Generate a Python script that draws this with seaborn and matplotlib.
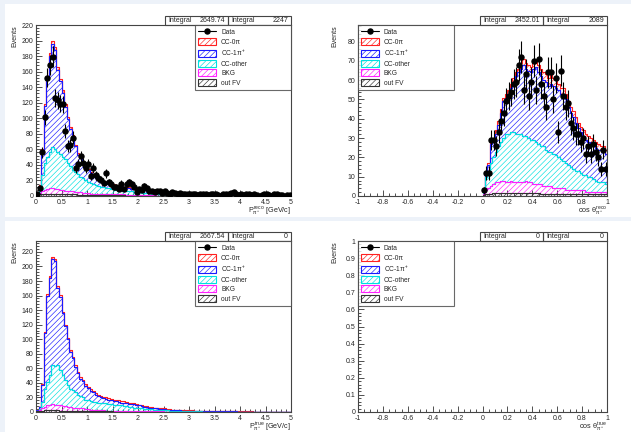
import numpy as np
import pandas as pd
import matplotlib
matplotlib.use("Agg")
import matplotlib.pyplot as plt
from matplotlib.patches import Patch, Rectangle
from matplotlib.lines import Line2D
from matplotlib.colors import to_rgb
from matplotlib.ticker import MultipleLocator, FuncFormatter
import seaborn as sns

# stack components, top of the stack first
COMP_KEYS = ["cc0pi", "cc1pi", "ccother", "bkg", "outfv"]
COMP_LABELS = ["CC-0π", "CC-1π$^{+}$", "CC-other", "BKG", "out FV"]
COMP_COLORS = ["#ff2020", "#1a1aff", "#00e0e0", "#ff20ff", "#333333"]

# ---- P_pi reco (0..5 GeV/c, 100 bins) ----
tl_outfv = [1, 2, 2, 2, 3, 3, 3, 3, 2, 2, 2, 2, 2, 2, 2, 2, 1, 1, 1, 1,
            1, 1, 1, 1, 1, 1, 1, 1, 1, 1, 1, 1, 1, 1, 1, 0.5, 0.5, 0.5, 0.5, 0.5,
            0.4, 0.4, 0.4, 0.4, 0.4, 0.3, 0.3, 0.3, 0.3, 0.3, 0.3, 0.2, 0.2, 0.2, 0.2, 0.2, 0.2, 0.2, 0.2, 0.2,
            0.2, 0.1, 0.1, 0.1, 0.1, 0.1, 0.1, 0.1, 0.1, 0.1, 0.1, 0.1, 0.1, 0.1, 0.1, 0.1, 0.1, 0.1, 0.1, 0.1,
            0.1, 0.1, 0.1, 0.1, 0.1, 0.1, 0.1, 0.1, 0.1, 0.1, 0.1, 0.1, 0.1, 0.1, 0.1, 0.1, 0.1, 0.1, 0.1, 0.1]
tl_bkg = [1, 2, 4, 6, 6, 7, 7, 6, 7, 6, 6, 5, 5, 4, 4, 3, 4, 4, 3, 3,
          3, 2, 2, 2, 2, 2, 1, 1, 1, 1, 1, 1, 1, 1, 1, 0.5, 0.5, 0.5, 0.5, 0.5,
          0.5, 0.5, 0.4, 0.4, 0.4, 0.4, 0.4, 0.3, 0.3, 0.3, 0.3, 0.3, 0.3, 0.3, 0.2, 0.2, 0.2, 0.2, 0.2, 0.2,
          0.2, 0.2, 0.2, 0.2, 0.2, 0.2, 0.1, 0.1, 0.1, 0.1, 0.1, 0.1, 0.1, 0.1, 0.1, 0.1, 0.1, 0.1, 0.1, 0.1,
          0.1, 0.1, 0.1, 0.1, 0.1, 0.1, 0.1, 0.1, 0.1, 0.1, 0.1, 0.1, 0.1, 0.1, 0.1, 0.1, 0.1, 0.1, 0.1, 0.1]
tl_other = [0, 6, 21, 34, 41, 47, 53, 52, 48, 46, 42, 40, 35, 32, 28, 26, 23, 20, 19, 17,
            14, 14, 12, 11, 10, 9, 9, 8, 8, 7, 7, 6, 6, 5, 5, 5, 5, 5, 4, 4,
            4, 3.5, 3.5, 3, 3, 2.5, 2.5, 2.5, 2, 2, 2, 1.8, 1.6, 1.5, 1.4, 1.3, 1.2, 1.1, 1.0, 1.0,
            0.9, 0.9, 0.8, 0.8, 0.7, 0.7, 0.6, 0.6, 0.6, 0.5, 0.5, 0.5, 0.4, 0.4, 0.4, 0.4, 0.3, 0.3, 0.3, 0.3,
            0.3, 0.3, 0.2, 0.2, 0.2, 0.2, 0.2, 0.2, 0.2, 0.1, 0.1, 0.1, 0.1, 0.1, 0.1, 0.1, 0.1, 0.1, 0.1, 0.1]
tl_1pi = [3, 3, 32, 74, 102, 123, 133, 127, 105, 94, 83, 68, 57, 48, 41, 33, 25, 24, 18, 16,
          15, 12, 11, 9, 8, 7, 6, 6, 5, 5, 4, 4, 4, 4, 4, 4, 4, 3, 4, 3,
          3, 3, 3, 2.6, 2.5, 2.3, 2.2, 2.1, 2.0, 1.9, 1.8, 1.7, 1.6, 1.5, 1.5, 1.4, 1.3, 1.3, 1.2, 1.2,
          1.1, 1.1, 1.0, 1.0, 0.9, 0.9, 0.9, 0.8, 0.8, 0.8, 0.7, 0.7, 0.7, 0.6, 0.6, 0.6, 0.6, 0.5, 0.5, 0.5,
          0.5, 0.5, 0.4, 0.4, 0.4, 0.4, 0.4, 0.3, 0.3, 0.3, 0.3, 0.3, 0.3, 0.3, 0.2, 0.2, 0.2, 0.2, 0.2, 0.2]
tl_0pi = [0, 1, 2, 3, 3, 4, 4, 4, 4, 3, 3, 3, 3, 3, 3, 2, 2, 2, 2, 2,
          2, 2, 2, 2, 2, 2, 2, 2, 2, 2, 2, 2, 1, 1, 1, 1, 1, 1, 1, 1,
          1, 1, 1, 0.8, 0.8, 0.7, 0.7, 0.7, 0.6, 0.6, 0.6, 0.5, 0.5, 0.5, 0.5, 0.4, 0.4, 0.4, 0.4, 0.4,
          0.3, 0.3, 0.3, 0.3, 0.3, 0.3, 0.2, 0.2, 0.2, 0.2, 0.2, 0.2, 0.2, 0.2, 0.2, 0.1, 0.1, 0.1, 0.1, 0.1,
          0.1, 0.1, 0.1, 0.1, 0.1, 0.1, 0.1, 0.1, 0.1, 0.1, 0.1, 0.1, 0.1, 0.1, 0.1, 0.1, 0.1, 0.1, 0.1, 0.1]
tl_data = [3, 10, 56, 101, 152, 169, 179, 126, 123, 119, 118, 84, 64, 65, 75, 36, 41, 51, 42, 36,
           41, 26, 36, 27, 23, 21, 17, 29, 18, 16, 11, 12, 9, 16, 9, 15, 18, 15, 12, 5,
           9, 8, 13, 10, 7, 6, 5, 6, 7, 4, 6, 4, 3, 5, 4, 3, 4, 3, 3, 3,
           3, 2, 3, 1, 2, 2, 3, 1, 2, 2, 2, 1, 0, 2, 2, 3, 4, 5, 2, 1,
           2, 1, 2, 3, 1, 2, 1, 0, 1, 2, 2, 1, 0, 2, 2, 1, 1, 0, 1, 1]

# ---- cos theta reco (filled part 0..1, 50 bins of 0.02) ----
tr_outfv = [0.5, 1, 1, 1, 1.5, 1.5, 1.5, 1.5, 1.5, 1.5, 1.5, 1.5, 1.5, 1.5, 1.5, 1.5, 1.5, 1.5, 1.5, 1.5,
            1.5, 1.5, 1.5, 1, 1, 1, 1, 1, 1, 1, 1, 1, 1, 1, 1, 1, 1, 1, 1, 1,
            1, 1, 1, 1, 1, 1, 1, 1, 1, 1]
tr_bkg = [0.5, 2, 3, 4, 4.5, 5.5, 5.5, 6.5, 6.5, 5.5, 5.5, 6.5, 5.5, 5.5, 5.5, 5.5, 5.5, 6.5, 5.5, 5.5,
          4.5, 4.5, 4.5, 5, 4, 4, 4, 4, 3, 3, 3, 3, 3, 2, 2, 2, 2, 2, 2, 2,
          2, 1, 1, 1, 1, 1, 1, 1, 1, 1]
tr_other = [1, 7, 9, 12, 14, 16, 19, 20, 22, 25, 25, 25, 26, 25, 25, 25, 24, 23, 23, 22,
            23, 22, 21, 20, 21, 19, 18, 18, 18, 17, 16, 15, 14, 14, 13, 12, 11, 10, 10, 9,
            8, 9, 8, 8, 7, 6, 5, 5, 5, 4]
tr_1pi = [1, 2, 3, 10, 8, 9, 11, 15, 19, 19, 21, 23, 26, 30, 32, 34, 37, 35, 35, 35,
          37, 39, 37, 36, 34, 35, 34, 35, 35, 35, 35, 34, 35, 33, 30, 28, 27, 25, 22, 21,
          20, 18, 18, 17, 17, 17, 17, 17, 17, 16]
tr_0pi = [0, 1, 1, 1, 1, 2, 2, 2, 2, 2, 2, 2, 2, 2, 2, 3, 3, 3, 3, 3,
          3, 3, 4, 4, 4, 4, 4, 5, 4, 4, 3, 3, 3, 3, 3, 3, 3, 3, 3, 3,
          3, 3, 3, 3, 3, 3, 3, 2, 2, 2]
tr_data = [3, 12, 12, 29, 29, 26, 33, 39, 43, 49, 52, 54, 58, 59, 68, 72, 55, 63, 52, 59,
           70, 55, 71, 58, 52, 46, 64, 64, 50, 61, 33, 65, 52, 46, 48, 38, 35, 32, 32, 28,
           30, 22, 26, 22, 27, 23, 20, 14, 24, 14]

# ---- P_pi true (0..5 GeV/c, 100 bins), no data ----
bl_outfv = [1, 2, 2, 3, 3, 3, 3, 3, 3, 2, 2, 2, 2, 2, 2, 2, 1, 1, 1, 1,
            1, 1, 1, 1, 1, 1, 1, 1, 1, 1, 0.5, 0.5, 0.5, 0.5, 0.5, 0.5, 0.5, 0.5, 0.5, 0.5,
            0.3, 0.3, 0.3, 0.3, 0.3, 0.3, 0.3, 0.3, 0.3, 0.3, 0.2, 0.2, 0.2, 0.2, 0.2, 0.2, 0.2, 0.2, 0.2, 0.2,
            0.1, 0.1, 0.1, 0.1, 0.1, 0.1, 0.1, 0.1, 0.1, 0.1, 0.1, 0.1, 0.1, 0.1, 0.1, 0.1, 0.1, 0.1, 0.1, 0.1,
            0.1, 0.1, 0.1, 0.1, 0.1, 0.1, 0.1, 0.1, 0.1, 0.1, 0.1, 0.1, 0.1, 0.1, 0.1, 0.1, 0.1, 0.1, 0.1, 0.1]
bl_bkg = [0, 1, 3, 4, 6, 7, 8, 7, 7, 7, 6, 6, 5, 5, 4, 4, 4, 4, 4, 3,
          3, 2, 2, 2, 2, 2, 2, 1, 1, 1, 1.5, 1.5, 1.5, 1.5, 1, 1, 1, 1, 0.5, 0.5,
          0.7, 0.7, 0.7, 0.6, 0.6, 0.5, 0.5, 0.5, 0.4, 0.4, 0.4, 0.4, 0.3, 0.3, 0.3, 0.3, 0.2, 0.2, 0.2, 0.2,
          0.2, 0.2, 0.2, 0.2, 0.2, 0.1, 0.1, 0.1, 0.1, 0.1, 0.1, 0.1, 0.1, 0.1, 0.1, 0.1, 0.1, 0.1, 0.1, 0.1,
          0.1, 0.1, 0.1, 0.1, 0.1, 0.1, 0.1, 0.1, 0.1, 0.1, 0.1, 0.1, 0.1, 0.1, 0.1, 0.1, 0.1, 0.1, 0.1, 0.1]
bl_other = [0, 1, 9, 25, 32, 41, 53, 53, 55, 49, 43, 36, 30, 25, 24, 21, 19, 17, 15, 13,
            12, 12, 11, 11, 10, 10, 9, 10, 9, 9, 8, 8, 7, 7, 6.5, 6.5, 5.5, 5.5, 5, 5,
            4.5, 4.3, 3.5, 3.4, 3.0, 2.7, 2.5, 2.3, 2.0, 1.8, 1.7, 1.5, 1.4, 1.2, 1.1, 1.0, 0.9, 0.8, 0.7, 0.7,
            0.6, 0.6, 0.5, 0.5, 0.5, 0.4, 0.4, 0.4, 0.3, 0.3, 0.3, 0.3, 0.2, 0.2, 0.2, 0.2, 0.2, 0.2, 0.1, 0.1,
            0.1, 0.1, 0.1, 0.1, 0.1, 0.1, 0.1, 0.1, 0.1, 0.1, 0.1, 0.1, 0.1, 0.1, 0.1, 0.1, 0.1, 0.1, 0.1, 0.1]
bl_1pi = [2, 3, 23, 76, 119, 133, 146, 144, 105, 100, 85, 74, 63, 51, 44, 35, 29, 24, 22, 19,
          17, 14, 13, 10, 9, 7, 7, 6, 6, 5, 5, 5, 5, 4, 5, 4, 4.5, 3.5, 4.5, 3.5,
          3.5, 2.7, 2.5, 2.7, 2.1, 2.6, 1.9, 2.1, 1.6, 1.8, 2.3, 1.2, 1.4, 0.8, 0.9, 1.0, 1.3, 0.5, 0.6, 0.6,
          1.0, 0.9, 0.9, 0.8, 0.8, 0.7, 0.7, 0.7, 0.6, 0.6, 0.6, 0.5, 0.5, 0.5, 0.5, 0.4, 0.4, 0.4, 0.4, 0.3,
          0.3, 0.3, 0.3, 0.3, 0.3, 0.2, 0.2, 0.2, 0.2, 0.2, 0.2, 0.2, 0.2, 0.1, 0.1, 0.1, 0.1, 0.1, 0.1, 0.1]
bl_0pi = [0, 0, 1, 2, 2, 3, 3, 3, 3, 3, 2, 2, 2, 2, 2, 2, 2, 2, 2, 2,
          2, 2, 2, 2, 2, 2, 2, 2, 2, 2, 2, 2, 2, 2, 2, 2, 1.5, 1.5, 1.5, 1.5,
          1, 1, 1, 1, 1, 0.9, 0.8, 0.8, 0.7, 0.7, 0.7, 0.6, 0.6, 0.5, 0.5, 0.5, 0.4, 0.4, 0.4, 0.4,
          0.3, 0.3, 0.3, 0.3, 0.3, 0.3, 0.3, 0.3, 0.3, 0.3, 0.2, 0.2, 0.2, 0.2, 0.2, 0.2, 0.2, 0.2, 0.2, 0.2,
          0.1, 0.1, 0.1, 0.1, 0.1, 0.1, 0.1, 0.1, 0.1, 0.1, 0.1, 0.1, 0.1, 0.1, 0.1, 0.1, 0.1, 0.1, 0.1, 0.1]

mom_edges = np.linspace(0, 5, 101)
cos_edges = np.linspace(0, 1, 51)

sns.set_style("ticks")
plt.rcParams["font.family"] = ["Liberation Sans", "DejaVu Sans"]
plt.rcParams["axes.unicode_minus"] = False
plt.rcParams["hatch.linewidth"] = 0.45
plt.rcParams["mathtext.fontset"] = "custom"
plt.rcParams["mathtext.rm"] = "Liberation Sans"
plt.rcParams["mathtext.it"] = "Liberation Sans"

HATCH = "//////"
W, H = 631, 432
fig = plt.figure(figsize=(W / 100, H / 100), dpi=100, facecolor="#edf2f9")
# white pads like the ROOT canvas
fig.patches.append(Rectangle((5 / W, 1 - 217 / H), 1, 213 / H, transform=fig.transFigure,
                             fc="white", ec="none", zorder=-5))
fig.patches.append(Rectangle((5 / W, 0), 1, 1 - 221 / H, transform=fig.transFigure,
                             fc="white", ec="none", zorder=-5))


def fmt(v, pos):
    return f"{round(v, 6):g}"


def make_axes(px_left, px_right, px_top, px_bottom):
    return fig.add_axes([px_left / W, 1 - px_bottom / H,
                         (px_right - px_left) / W, (px_bottom - px_top) / H])


def draw_stack(ax, edges, comps):
    centers = 0.5 * (edges[:-1] + edges[1:])
    rows = []
    for key, vals in zip(COMP_KEYS, comps):
        for c, v in zip(centers, vals):
            rows.append((c, v, key))
    df = pd.DataFrame(rows, columns=["x", "w", "comp"])
    sns.histplot(data=df, x="x", weights="w", hue="comp", hue_order=COMP_KEYS,
                 palette=dict(zip(COMP_KEYS, COMP_COLORS)), bins=list(edges),
                 multiple="stack", element="step", fill=True, legend=False, ax=ax)
    rgbs = np.array([to_rgb(c) for c in COMP_COLORS])
    for coll in ax.collections:
        rgb = np.array(coll.get_facecolor()[0][:3])
        i = int(np.argmin(((rgbs - rgb) ** 2).sum(axis=1)))
        coll.set_alpha(None)
        coll.set_facecolor("none")
        coll.set_edgecolor(COMP_COLORS[i])
        coll.set_hatch(HATCH)
        coll.set_linewidth(0.8)
        coll.set_zorder(2 + i)


def draw_data(ax, edges, counts):
    centers = 0.5 * (edges[:-1] + edges[1:])
    y = np.array(counts, dtype=float)
    m = y > 0
    ax.errorbar(centers[m], y[m], yerr=np.sqrt(y[m]), fmt="o", color="black",
                ms=3.6, elinewidth=0.8, capsize=0, zorder=10)


def style_axes(ax, xlim, ylim, xmaj, xmin, ymaj, ymin, xlabel, ylab_x):
    ax.set_xlim(*xlim)
    ax.set_ylim(*ylim)
    ax.xaxis.set_major_locator(MultipleLocator(xmaj))
    ax.xaxis.set_minor_locator(MultipleLocator(xmin))
    ax.yaxis.set_major_locator(MultipleLocator(ymaj))
    ax.yaxis.set_minor_locator(MultipleLocator(ymin))
    ax.xaxis.set_major_formatter(FuncFormatter(fmt))
    ax.yaxis.set_major_formatter(FuncFormatter(fmt))
    ax.tick_params(which="both", direction="in", top=False, right=False,
                   labelsize=5, pad=2, width=0.6, color="#333333")
    ax.tick_params(which="major", length=4)
    ax.tick_params(which="minor", length=2)
    for s in ax.spines.values():
        s.set_linewidth(0.8)
        s.set_color("#444444")
    ax.set_ylabel("Events", loc="top", fontsize=5)
    ax.yaxis.set_label_coords(ylab_x, 1)
    ax.set_xlabel(xlabel, loc="right", fontsize=5.2)
    ax.xaxis.set_label_coords(1, -0.05)


def draw_legend(ax, x0, width):
    handles = [Line2D([0], [0], color="black", marker="o", ms=3.6, lw=0.8)]
    for c in COMP_COLORS:
        handles.append(Patch(facecolor="none", edgecolor=c, hatch=HATCH, lw=0.8))
    labels = ["Data"] + COMP_LABELS
    leg = ax.legend(handles, labels, loc="upper left", bbox_to_anchor=(x0, 0, width, 1),
                    mode="expand", frameon=True, fancybox=False, edgecolor="#444444",
                    borderaxespad=0, fontsize=4.8, handlelength=2.7, handleheight=1.25,
                    labelspacing=0.28, borderpad=0.5, handletextpad=0.7)
    leg.get_frame().set_linewidth(0.8)
    leg.set_zorder(20)


def draw_stats(ax, x0, xm, mc_val, data_val, ax_px_h):
    h = 9 / ax_px_h
    for xa, xb, val in [(x0, xm, mc_val), (xm, 1.0, data_val)]:
        ax.add_patch(Rectangle((xa, 1), xb - xa, h, transform=ax.transAxes, fill=False,
                               ec="#444444", lw=0.8, clip_on=False))
        ax.text(xa + 0.012, 1 + h / 2, "Integral", transform=ax.transAxes,
                ha="left", va="center", fontsize=5)
        ax.text(xb - 0.012, 1 + h / 2, val, transform=ax.transAxes,
                ha="right", va="center", fontsize=5)


# top left: momentum reco
ax1 = make_axes(36, 291, 25, 196)
draw_stack(ax1, mom_edges, [tl_0pi, tl_1pi, tl_other, tl_bkg, tl_outfv])
draw_data(ax1, mom_edges, tl_data)
style_axes(ax1, (0, 5), (0, 220), 0.5, 0.1, 20, 4,
           r"$P_{\pi^{+}}^{reco}$ [GeV/c]", -0.068)
draw_legend(ax1, 0.624, 0.376)
draw_stats(ax1, 0.506, 0.753, "2649.74", "2247", 171)

# top right: cos theta reco
ax2 = make_axes(358, 607, 25, 196)
draw_stack(ax2, cos_edges, [tr_0pi, tr_1pi, tr_other, tr_bkg, tr_outfv])
draw_data(ax2, cos_edges, tr_data)
style_axes(ax2, (-1, 1), (0, 88.6), 0.2, 0.05, 10, 2,
           r"cos $\theta_{\pi^{+}}^{reco}$", -0.08)
draw_legend(ax2, 0.0, 0.386)
draw_stats(ax2, 0.49, 0.743, "2452.01", "2089", 171)

# bottom left: momentum true
ax3 = make_axes(36, 291, 241, 412)
draw_stack(ax3, mom_edges, [bl_0pi, bl_1pi, bl_other, bl_bkg, bl_outfv])
style_axes(ax3, (0, 5), (0, 235), 0.5, 0.1, 20, 4,
           r"$P_{\pi^{+}}^{true}$ [GeV/c]", -0.068)
draw_legend(ax3, 0.624, 0.376)
draw_stats(ax3, 0.506, 0.753, "2667.54", "0", 171)

# bottom right: cos theta true (empty)
ax4 = make_axes(358, 607, 241, 412)
style_axes(ax4, (-1, 1), (0, 1), 0.2, 0.05, 0.1, 0.02,
           r"cos $\theta_{\pi^{+}}^{true}$", -0.08)
draw_legend(ax4, 0.0, 0.386)
draw_stats(ax4, 0.49, 0.743, "0", "0", 171)

fig.savefig("out.png", dpi=100, facecolor=fig.get_facecolor())
